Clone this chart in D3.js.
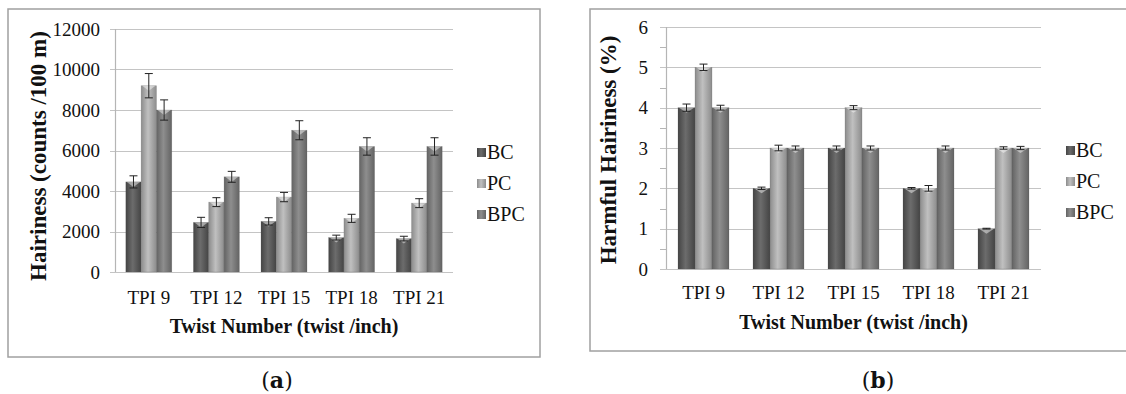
<!DOCTYPE html>
<html>
<head>
<meta charset="utf-8">
<script src="https://cdn.jsdelivr.net/npm/d3@7"></script>
<style>
  body { margin: 0; background: #fff; }
  text { font-family: "Liberation Serif", "Times New Roman", serif; fill: #111; }
</style>
</head>
<body>
<div id="chart"></div>
<script>

// Data
const categories = ["TPI 9", "TPI 12", "TPI 15", "TPI 18", "TPI 21"];
const seriesNames = ["BC", "PC", "BPC"];

// (a) hairiness, counts /100 m
const hairBC  = [4450, 2450, 2500, 1700, 1650];
const hairPC  = [9200, 3450, 3700, 2650, 3400];
const hairBPC = [8000, 4700, 7000, 6200, 6200];
const hairErrBC  = [300, 250, 180, 120, 115];
const hairErrPC  = [600, 220, 230, 200, 220];
const hairErrBPC = [500, 270, 470, 430, 430];
const hairTicks = [0, 2000, 4000, 6000, 8000, 10000, 12000];

// (b) harmful hairiness, %
const harmBC  = [4, 2, 3, 2, 1];
const harmPC  = [5, 3, 4, 2, 3];
const harmBPC = [4, 3, 3, 3, 3];
const harmErrBC  = [0.09, 0.03, 0.05, 0.02, 0.01];
const harmErrPC  = [0.08, 0.07, 0.05, 0.07, 0.03];
const harmErrBPC = [0.06, 0.05, 0.05, 0.05, 0.04];
const harmTicks = [0, 1, 2, 3, 4, 5, 6];
const harmMinorTicks = [0.5, 1.5, 2.5, 3.5, 4.5, 5.5];

const width = 1126;
const height = 394;

const svg = d3.select("#chart")
  .append("svg")
  .attr("width", width)
  .attr("height", height);

// gray shades for each series: edge, middle
const shades = {
  BC:  ["#444444", "#6c6c6c"],
  PC:  ["#8c8c8c", "#c0c0c0"],
  BPC: ["#636363", "#8e8e8e"]
};

const defs = svg.append("defs");
seriesNames.forEach(s => {
  const g = defs.append("linearGradient")
    .attr("id", "grad-" + s)
    .attr("x1", "0%").attr("x2", "100%")
    .attr("y1", "0%").attr("y2", "0%");
  g.append("stop").attr("offset", "0%").attr("stop-color", shades[s][0]);
  g.append("stop").attr("offset", "45%").attr("stop-color", shades[s][1]);
  g.append("stop").attr("offset", "100%").attr("stop-color", shades[s][0]);
});

// layout of each panel
const panels = [
  {
    box: [8, 9, 540, 357],
    xRange: [115, 453], yRange: [272, 29],
    yMax: 12000, ticks: hairTicks, minor: [],
    tickLabelX: 100, tickLeft: 110,
    values: [hairBC, hairPC, hairBPC],
    errors: [hairErrBC, hairErrPC, hairErrBPC],
    yTitle: "Hairiness (counts /100 m)", yTitleX: 38, yTitleY: 156,
    xLabelY: 297, xTitleY: 326,
    legendX: 477, legendY: [152, 183, 214],
    caption: "a", captionX: 277
  },
  {
    box: [590, 9, 1150, 351],
    xRange: [666, 1041], yRange: [269, 27],
    yMax: 6, ticks: harmTicks, minor: harmMinorTicks,
    tickLabelX: 648, tickLeft: 660,
    values: [harmBC, harmPC, harmBPC],
    errors: [harmErrBC, harmErrPC, harmErrBPC],
    yTitle: "Harmful Hairiness (%)", yTitleX: 608, yTitleY: 150,
    xLabelY: 292, xTitleY: 322,
    legendX: 1066, legendY: [150, 181, 212],
    caption: "b", captionX: 878
  }
];

panels.forEach(p => {
  const g = svg.append("g");

  // outer frame
  g.append("rect")
    .attr("x", p.box[0]).attr("y", p.box[1])
    .attr("width", p.box[2] - p.box[0])
    .attr("height", p.box[3] - p.box[1])
    .attr("fill", "none")
    .attr("stroke", "#a0a0a0")
    .attr("stroke-width", 1.5);

  // scales
  const x = d3.scaleBand()
    .domain(categories)
    .range(p.xRange)
    .paddingInner(0.32)
    .paddingOuter(0.16);

  const xs = d3.scaleBand()
    .domain(seriesNames)
    .range([0, x.bandwidth()]);

  const y = d3.scaleLinear()
    .domain([0, p.yMax])
    .range(p.yRange);

  // gridlines, they also make the tick marks on the left
  g.selectAll(".grid")
    .data(p.ticks)
    .enter()
    .append("line")
      .attr("x1", p.tickLeft)
      .attr("x2", p.xRange[1])
      .attr("y1", d => Math.round(y(d)) + 0.5)
      .attr("y2", d => Math.round(y(d)) + 0.5)
      .attr("stroke", "#c4c4c4")
      .attr("stroke-width", 1.2);

  g.selectAll(".minor")
    .data(p.minor)
    .enter()
    .append("line")
      .attr("x1", p.tickLeft)
      .attr("x2", p.xRange[0])
      .attr("y1", d => Math.round(y(d)) + 0.5)
      .attr("y2", d => Math.round(y(d)) + 0.5)
      .attr("stroke", "#b5b5b5");

  // y axis line
  g.append("line")
    .attr("x1", p.xRange[0] + 0.5).attr("x2", p.xRange[0] + 0.5)
    .attr("y1", p.yRange[1]).attr("y2", p.yRange[0])
    .attr("stroke", "#b5b5b5")
    .attr("stroke-width", 1.2);

  // y tick labels
  g.selectAll(".ylab")
    .data(p.ticks)
    .enter()
    .append("text")
      .attr("x", p.tickLabelX)
      .attr("y", d => y(d))
      .attr("dy", "0.35em")
      .attr("text-anchor", "end")
      .attr("font-size", "19px")
      .text(d => d);

  // bars per series
  seriesNames.forEach((s, si) => {
    const vals = p.values[si];
    const errs = p.errors[si];
    const bx = (d, i) => x(categories[i]) + xs(s);

    g.selectAll(".bar-" + s)
      .data(vals)
      .enter()
      .append("rect")
        .attr("x", bx)
        .attr("y", d => y(d))
        .attr("width", xs.bandwidth())
        .attr("height", d => y(0) - y(d))
        .attr("fill", "url(#grad-" + s + ")")
        .attr("stroke", "#5a5a5a")
        .attr("stroke-opacity", 0.35)
        .attr("stroke-width", 0.6);

    // light bevel at the top of each bar
    g.selectAll(".cap-" + s)
      .data(vals)
      .enter()
      .append("path")
        .attr("d", (d, i) => {
          const x0 = bx(d, i), w = xs.bandwidth(), y0 = y(d);
          return `M${x0 + 1},${y0} L${x0 + w - 1},${y0} L${x0 + w * 0.5},${y0 + 5} Z`;
        })
        .attr("fill", "#ffffff")
        .attr("fill-opacity", 0.45);

    // error bars
    const eb = g.selectAll(".err-" + s)
      .data(vals)
      .enter()
      .append("g");
    const cx = (d, i) => bx(d, i) + xs.bandwidth() / 2;
    eb.append("line")
      .attr("x1", cx).attr("x2", cx)
      .attr("y1", (d, i) => y(d + errs[i]))
      .attr("y2", (d, i) => y(d - errs[i]))
      .attr("stroke", "#222").attr("stroke-width", 1);
    [1, -1].forEach(sign => {
      eb.append("line")
        .attr("x1", (d, i) => cx(d, i) - 4)
        .attr("x2", (d, i) => cx(d, i) + 4)
        .attr("y1", (d, i) => y(d + sign * errs[i]))
        .attr("y2", (d, i) => y(d + sign * errs[i]))
        .attr("stroke", "#222").attr("stroke-width", 1);
    });
  });

  // x category labels
  g.selectAll(".xlab")
    .data(categories)
    .enter()
    .append("text")
      .attr("x", d => x(d) + x.bandwidth() / 2)
      .attr("y", p.xLabelY)
      .attr("dy", "0.35em")
      .attr("text-anchor", "middle")
      .attr("font-size", "19px")
      .text(d => d);

  // axis titles
  g.append("text")
    .attr("x", (p.xRange[0] + p.xRange[1]) / 2)
    .attr("y", p.xTitleY)
    .attr("dy", "0.35em")
    .attr("text-anchor", "middle")
    .attr("font-size", "20px")
    .attr("font-weight", "bold")
    .text("Twist Number (twist /inch)");

  g.append("text")
    .attr("transform", `translate(${p.yTitleX},${p.yTitleY}) rotate(-90)`)
    .attr("dy", "0.35em")
    .attr("text-anchor", "middle")
    .attr("font-size", "23px")
    .attr("font-weight", "bold")
    .text(p.yTitle);

  // legend
  seriesNames.forEach((s, si) => {
    g.append("rect")
      .attr("x", p.legendX)
      .attr("y", p.legendY[si] - 4)
      .attr("width", 9)
      .attr("height", 9)
      .attr("fill", "url(#grad-" + s + ")");
    g.append("text")
      .attr("x", p.legendX + 10)
      .attr("y", p.legendY[si])
      .attr("dy", "0.35em")
      .attr("font-size", "20px")
      .text(s);
  });

  // panel caption like (a)
  const cap = g.append("text")
    .attr("x", p.captionX)
    .attr("y", 380)
    .attr("dy", "0.35em")
    .attr("text-anchor", "middle")
    .attr("font-size", "22px")
    .style("font-family", "'DejaVu Serif', serif");
  cap.append("tspan").text("(");
  cap.append("tspan").attr("font-weight", "bold").text(p.caption);
  cap.append("tspan").text(")");
});

</script>
</body>
</html>
